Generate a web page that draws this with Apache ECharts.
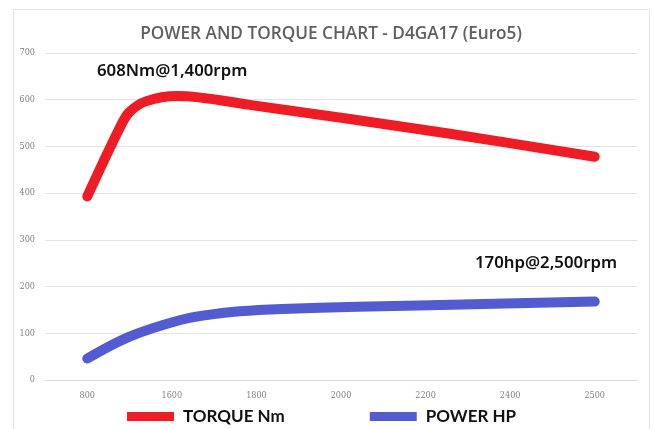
<!DOCTYPE html>
<html lang="en">
<head>
    <meta charset="UTF-8">
    <title>Power and torque chart</title>
    <script src="https://cdn.jsdelivr.net/npm/echarts@6/dist/echarts.min.js"></script>
    <style>
        html, body { margin: 0; padding: 0; background: #fff; }
        #chart { width: 654px; height: 429px; }
    </style>
</head>
<body>
<div id="chart"></div>
<script>
    // tick labels on the x axis (evenly spaced categories, as in the original)
    var rpmLabels = ['800', '1600', '1800', '2000', '2200', '2400', '2500']

    // curve points: [position along the category axis, value]
    var torqueNm = [[0, 393], [0.39, 542], [0.5, 574], [0.7, 597], [1.06, 608], [1.92, 589], [4.29, 527], [6, 478]]
    var powerHp = [[0, 46], [0.5, 93], [1.09, 128], [1.45, 140], [1.8, 147], [2.3, 152], [3.2, 157], [4.05, 160], [6, 168]]

    var seriesNames = ['TORQUE Nm', 'POWER HP']
    var chartTitle = 'POWER AND TORQUE CHART - D4GA17 (Euro5)'
    var torqueNote = '608Nm@1,400rpm'
    var powerNote = '170hp@2,500rpm'

    var red = '#ee1c25'
    var blue = '#525bcf'

    var chart = echarts.init(document.getElementById('chart'))
    chart.setOption({
        animation: false,
        title: {
            text: chartTitle,
            left: 326,
            top: 21,
            textAlign: 'center',
            textStyle: {
                fontFamily: 'Open Sans',
                fontWeight: 600,
                fontSize: 17.2,
                color: '#5f5f5f'
            }
        },
        legend: {
            top: 408,
            left: 127,
            padding: 0,
            itemWidth: 47,
            itemHeight: 9,
            itemGap: 85,
            icon: 'rect',
            data: seriesNames,
            textStyle: {
                fontFamily: 'Lato',
                fontWeight: 'bold',
                fontSize: 17,
                color: '#111',
                padding: [0, 0, 0, 4]
            }
        },
        grid: {
            left: 45,
            right: 17,
            top: 53,
            bottom: 49
        },
        xAxis: [
            {
                type: 'category',
                data: rpmLabels,
                boundaryGap: true,
                axisLine: { lineStyle: { color: '#d9d9d9' } },
                axisTick: { show: false },
                axisLabel: {
                    color: '#7f7f7f',
                    fontSize: 9,
                    fontFamily: 'DejaVu Serif Condensed',
                    margin: 11
                }
            },
            {
                type: 'value',
                min: -0.5,
                max: 6.5,
                show: false
            }
        ],
        yAxis: {
            type: 'value',
            min: 0,
            max: 700,
            interval: 100,
            axisLine: { show: false },
            axisTick: { show: false },
            splitLine: { lineStyle: { color: '#e3e3e3' } },
            axisLabel: {
                color: '#7f7f7f',
                fontSize: 9,
                fontFamily: 'DejaVu Serif Condensed',
                margin: 10
            }
        },
        series: [
            {
                name: seriesNames[0],
                type: 'line',
                xAxisIndex: 1,
                data: torqueNm,
                smooth: 0.35,
                showSymbol: false,
                color: red,
                lineStyle: { width: 10, color: red, cap: 'round', join: 'round' }
            },
            {
                name: seriesNames[1],
                type: 'line',
                xAxisIndex: 1,
                data: powerHp,
                smooth: 0.35,
                showSymbol: false,
                color: blue,
                lineStyle: { width: 10, color: blue, cap: 'round', join: 'round' }
            }
        ],
        graphic: [
            {
                type: 'rect',
                shape: { x: 13.5, y: 9.5, width: 636, height: 430 },
                style: { fill: 'none', stroke: '#e2e2e2', lineWidth: 1 },
                silent: true
            },
            {
                type: 'text',
                left: 97,
                top: 63,
                style: {
                    text: torqueNote,
                    font: '600 16.8px "Noto Sans"',
                    fill: '#111'
                }
            },
            {
                type: 'text',
                left: 475,
                top: 255,
                style: {
                    text: powerNote,
                    font: '600 16.8px "Noto Sans"',
                    fill: '#111'
                }
            }
        ]
    })
</script>
</body>
</html>
